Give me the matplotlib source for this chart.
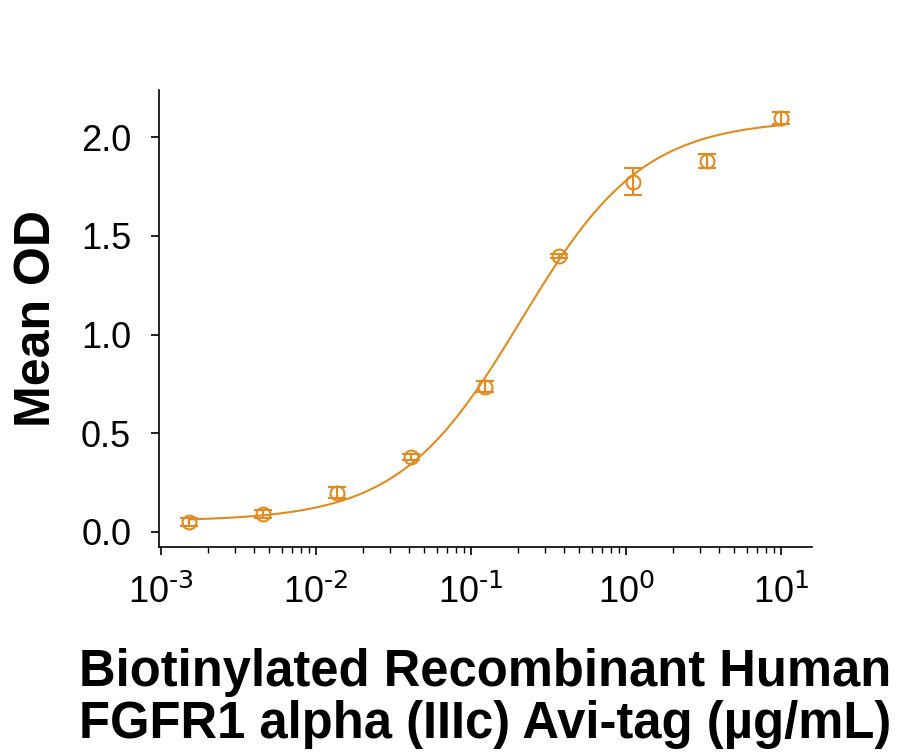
import numpy as np
import matplotlib
matplotlib.use("Agg")
import matplotlib.pyplot as plt
from matplotlib.ticker import LogLocator, FuncFormatter, NullFormatter

plt.rcParams['font.family'] = ['Liberation Sans', 'DejaVu Sans']
plt.rcParams['mathtext.default'] = 'regular'

# concentration (ug/mL), 3-fold dilution series
conc = [10.0, 3.333, 1.111, 0.3704, 0.1235, 0.04115, 0.01372, 0.004572, 0.001524]
mean_od = [2.10, 1.88, 1.775, 1.40, 0.735, 0.38, 0.20, 0.093, 0.05]
od_err = [0.03, 0.035, 0.068, 0.01, 0.028, 0.015, 0.03, 0.02, 0.02]

# 4PL fit parameters
fit_bottom = 0.055
fit_top = 2.09
fit_ec50 = 0.21
fit_hill = 1.1

COLOR = '#E38A1E'


def four_pl(x, bottom, top, ec50, hill):
    return bottom + (top - bottom) / (1 + (ec50 / x) ** hill)


def pow10_label(v, pos):
    e = int(round(np.log10(v)))
    return r'$10^{\text{%d}}$' % e


fig = plt.figure(figsize=(9.07, 7.56), dpi=100)
ax = fig.add_axes([0.1753, 0.2765, 0.72, 0.6045])

xx = np.logspace(np.log10(min(conc)), np.log10(max(conc)), 300)
ax.plot(xx, four_pl(xx, fit_bottom, fit_top, fit_ec50, fit_hill), color=COLOR, lw=1.5)
ax.errorbar(conc, mean_od, yerr=od_err, fmt='o', mfc='none', mec=COLOR, ecolor=COLOR,
            ms=10, mew=1.5, elinewidth=1.5, capsize=6.5, capthick=1.5)

ax.set_xscale('log')
ax.set_xlim(10 ** -3.013, 10 ** 1.2)
ax.set_ylim(-0.076, 2.24)
ax.set_yticks([0.0, 0.5, 1.0, 1.5, 2.0])
ax.set_yticklabels(['0.0', '0.5', '1.0', '1.5', '2.0'])

ax.xaxis.set_major_locator(LogLocator(base=10, numticks=10))
ax.xaxis.set_major_formatter(FuncFormatter(pow10_label))
ax.xaxis.set_minor_locator(LogLocator(base=10, subs=np.arange(2, 10), numticks=20))
ax.xaxis.set_minor_formatter(NullFormatter())

for side in ['top', 'right']:
    ax.spines[side].set_visible(False)
for side in ['left', 'bottom']:
    ax.spines[side].set_linewidth(1.2)

ax.tick_params(axis='both', which='major', labelsize=26, length=6, width=1.2)
ax.tick_params(axis='y', which='major', pad=14)
ax.tick_params(axis='x', which='minor', length=4, width=1.0)
ax.tick_params(axis='x', which='major', pad=14)

ax.set_ylabel('Mean OD', fontsize=36, fontweight='bold')
ax.yaxis.set_label_coords(-0.152, 0.5)
ax.set_xlabel('Biotinylated Recombinant Human\nFGFR1 alpha (IIIc) Avi-tag (\u00b5g/mL)',
              fontsize=36.5, fontweight='bold', linespacing=1.08)
ax.xaxis.set_label_coords(0.5, -0.22)

fig.savefig('out.png', dpi=100)
